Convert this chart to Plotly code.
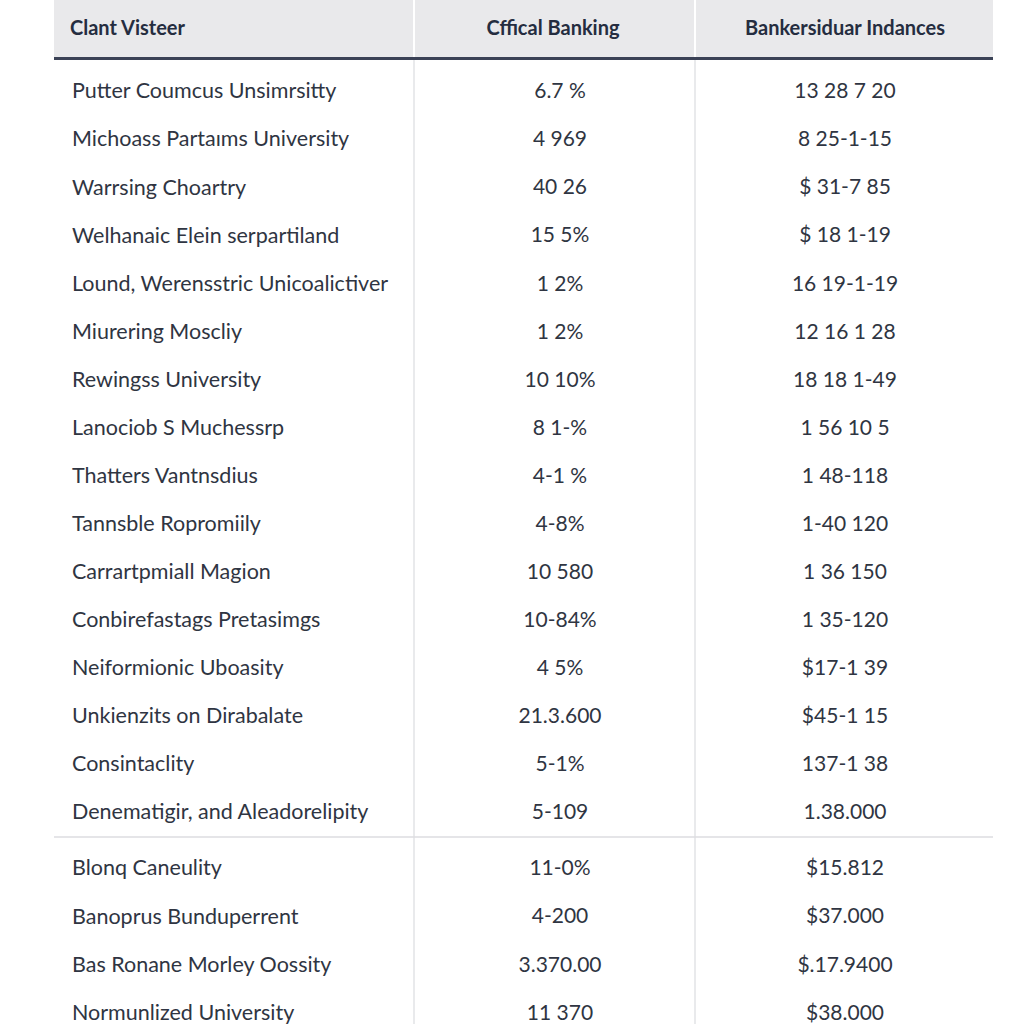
import plotly.graph_objects as go

# ---------------- data ----------------
headers = ["Clant Visteer", "Cffical Banking", "Bankersiduar Indances"]

names = [
    "Putter Coumcus Unsimrsitty",
    "Michoass Partaıms University",
    "Warrsing Choartry",
    "Welhanaic Elein serpartiland",
    "Lound, Werensstric Unicoalictiver",
    "Miurering Moscliy",
    "Rewingss University",
    "Lanociob S Muchessrp",
    "Thatters Vantnsdius",
    "Tannsble Ropromiily",
    "Carrartpmiall Magion",
    "Conbirefastags Pretasimgs",
    "Neiformionic Uboasity",
    "Unkienzits on Dirabalate",
    "Consintaclity",
    "Denematigir, and Aleadorelipity",
    "Blonq Caneulity",
    "Banoprus Bunduperrent",
    "Bas Ronane Morley Oossity",
    "Normunlized University",
]

banking = [
    "6.7 %", "4 969", "40 26", "15 5%", "1 2%", "1 2%", "10 10%", "8 1-%",
    "4-1 %", "4-8%", "10 580", "10-84%", "4 5%", "21.3.600", "5-1%", "5-109",
    "11-0%", "4-200", "3.370.00", "11 370",
]

indances = [
    "13 28 7 20", "8 25-1-15", "$ 31-7 85", "$ 18 1-19", "16 19-1-19",
    "12 16 1 28", "18 18 1-49", "1 56 10 5", "1 48-118", "1-40 120",
    "1 36 150", "1 35-120", "$17-1 39", "$45-1 15", "137-1 38", "1.38.000",
    "$15.812", "$37.000", "$.17.9400", "$38.000",
]

group_break = 16  # rows after this index sit below the separator line

# ---------------- layout geometry ----------------
W = H = 1024
TBL_L, TBL_R = 54, 993
DIV1, DIV2 = 414, 695
HEAD_B = 57
ROW0, STEP, GAP = 93, 48.07, 8
COL_NAME_X, COL2_X, COL3_X = 72, 560, 845

ys = [ROW0 + i * STEP + (GAP if i >= group_break else 0) for i in range(len(names))]
sep_y = 837

text_color = "#2f3542"
head_color = "#252d40"
body_font = "Lato, 'Open Sans', sans-serif"

fig = go.Figure()

fig.add_trace(go.Scatter(
    x=[COL_NAME_X] * len(names), y=ys, text=names, mode="text",
    textposition="middle right",
    textfont=dict(family=body_font, size=21.5, color=text_color),
    hoverinfo="skip", showlegend=False))
fig.add_trace(go.Scatter(
    x=[COL2_X] * len(banking), y=ys, text=banking, mode="text",
    textposition="middle center",
    textfont=dict(family=body_font, size=21, color=text_color),
    hoverinfo="skip", showlegend=False))
fig.add_trace(go.Scatter(
    x=[COL3_X] * len(indances), y=ys, text=indances, mode="text",
    textposition="middle center",
    textfont=dict(family=body_font, size=21, color=text_color),
    hoverinfo="skip", showlegend=False))

# headers
fig.add_trace(go.Scatter(
    x=[COL_NAME_X - 2], y=[30], text=[headers[0]], mode="text",
    textposition="middle right",
    textfont=dict(family="Lato, sans-serif", size=20, color=head_color, weight="bold"),
    hoverinfo="skip", showlegend=False))
fig.add_trace(go.Scatter(
    x=[553, COL3_X], y=[30, 30], text=headers[1:], mode="text",
    textposition="middle center",
    textfont=dict(family="Lato, sans-serif", size=20, color=head_color, weight="bold"),
    hoverinfo="skip", showlegend=False))

shapes = [
    dict(type="rect", x0=TBL_L, x1=TBL_R, y0=-20, y1=HEAD_B, fillcolor="#e9e9eb",
         line=dict(width=0), layer="below"),
    dict(type="line", x0=DIV1, x1=DIV1, y0=-20, y1=HEAD_B, line=dict(color="#ffffff", width=2), layer="below"),
    dict(type="line", x0=DIV2, x1=DIV2, y0=-20, y1=HEAD_B, line=dict(color="#ffffff", width=2), layer="below"),
    dict(type="line", x0=DIV1, x1=DIV1, y0=HEAD_B, y1=H + 20, line=dict(color="#e2e3e6", width=1.5), layer="below"),
    dict(type="line", x0=DIV2, x1=DIV2, y0=HEAD_B, y1=H + 20, line=dict(color="#e2e3e6", width=1.5), layer="below"),
    dict(type="line", x0=TBL_L, x1=TBL_R, y0=sep_y, y1=sep_y, line=dict(color="#dcdde1", width=1.5), layer="below"),
    dict(type="line", x0=TBL_L, x1=TBL_R, y0=HEAD_B + 1.5, y1=HEAD_B + 1.5, line=dict(color="#3b4256", width=3)),
]

fig.update_layout(
    width=W, height=H,
    margin=dict(l=0, r=0, t=0, b=0),
    paper_bgcolor="#ffffff", plot_bgcolor="#ffffff",
    xaxis=dict(range=[0, W], visible=False, fixedrange=True),
    yaxis=dict(range=[H, 0], visible=False, fixedrange=True),
    shapes=shapes,
    hovermode=False,
)

fig.write_html(
    "out.html",
    config={"displayModeBar": False, "staticPlot": True},
    post_script="document.body.style.margin='0';document.body.style.padding='0';"
                "document.documentElement.style.overflow='hidden';",
)
